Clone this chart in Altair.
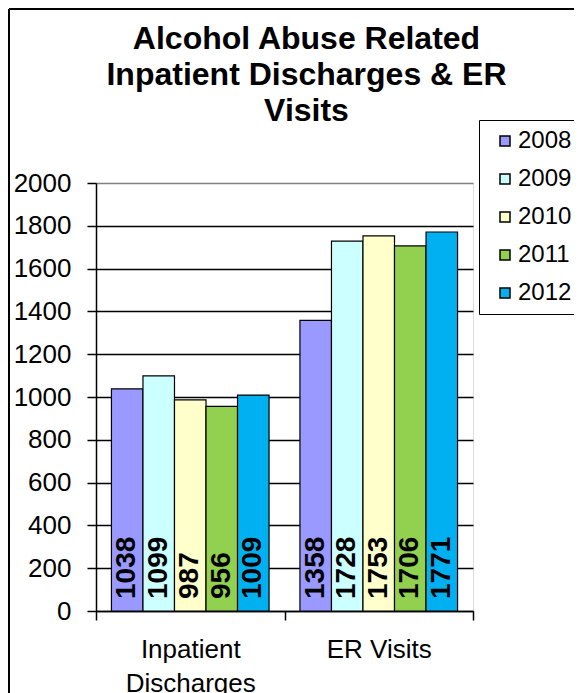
import altair as alt
import pandas as pd

categories = ["Inpatient Discharges", "ER Visits"]
years = ["2008", "2009", "2010", "2011", "2012"]
inpatient = [1038, 1099, 987, 956, 1009]
er_visits = [1358, 1728, 1753, 1706, 1771]
colors = ["#9999FF", "#CCFFFF", "#FFFFCC", "#92D050", "#00B0F0"]
y_ticks = [0, 200, 400, 600, 800, 1000, 1200, 1400, 1600, 1800, 2000]
title_lines = ["Alcohol Abuse Related", "Inpatient Discharges & ER", "Visits"]

rows = []
for cat, vals in zip(categories, [inpatient, er_visits]):
    for yr, v in zip(years, vals):
        rows.append({"cat": cat, "year": yr, "value": v})
df = pd.DataFrame(rows)

FONT = "Liberation Sans"

x_enc = alt.X(
    "cat:N",
    sort=categories,
    scale=alt.Scale(paddingInner=0, paddingOuter=0),
    axis=alt.Axis(
        title=None,
        labelAngle=0,
        tickBand="extent",
        tickSize=9,
        tickColor="black",
        tickWidth=1.5,
        domainColor="black",
        domainWidth=1.5,
        labelFontSize=26,
        labelFont=FONT,
        labelColor="black",
        labelPadding=16,
        labelLineHeight=34,
        labelExpr="datum.label == 'Inpatient Discharges' ? ['Inpatient', 'Discharges'] : datum.label",
        grid=False,
    ),
)
xoff_enc = alt.XOffset(
    "year:N",
    sort=years,
    scale=alt.Scale(paddingInner=0, paddingOuter=0.49),
)
y_enc = alt.Y(
    "value:Q",
    scale=alt.Scale(domain=[0, 2000], nice=False),
    axis=alt.Axis(
        title=None,
        values=y_ticks,
        format="d",
        tickSize=9,
        tickColor="black",
        tickWidth=1.5,
        domainColor="black",
        domainWidth=1.5,
        labelFontSize=26,
        labelFont=FONT,
        labelColor="black",
        labelPadding=16,
        grid=True,
        gridColor=alt.condition("datum.value >= 2000", alt.value("#808080"), alt.value("black")),
        gridWidth=1.3,
    ),
)
color_enc = alt.Color(
    "year:N",
    sort=years,
    scale=alt.Scale(domain=years, range=colors),
    legend=alt.Legend(
        title=None,
        orient="none",
        legendX=383,
        legendY=-63,
        strokeColor="black",
        fillColor="white",
        padding=9,
        symbolType="square",
        symbolSize=100,
        symbolStrokeColor="black",
        symbolStrokeWidth=1.5,
        symbolOffset=5,
        labelOffset=1,
        labelFontSize=24,
        labelFont=FONT,
        labelColor="black",
        rowPadding=14,
    ),
)

bars = alt.Chart(df).mark_bar(stroke="black", strokeWidth=1.2).encode(
    x=x_enc, xOffset=xoff_enc, y=y_enc, color=color_enc
)

labels = alt.Chart(df).mark_text(
    angle=270,
    align="left",
    baseline="middle",
    dx=12,
    fontSize=28,
    fontWeight="bold",
    font=FONT,
    color="black",
).encode(
    x=alt.X("cat:N", sort=categories),
    xOffset=alt.XOffset("year:N", sort=years),
    y=alt.datum(0),
    text="value:Q",
)

frame_df = pd.DataFrame([{"k": 0}])
left_edge = alt.Chart(frame_df).mark_rule(color="black", strokeWidth=2).encode(
    x=alt.value(-87), y=alt.value(-174), y2=alt.value(600)
)
top_edge = alt.Chart(frame_df).mark_rule(color="black", strokeWidth=2).encode(
    x=alt.value(-87), x2=alt.value(500), y=alt.value(-174)
)

chart = alt.layer(bars, labels, left_edge, top_edge).properties(
    width=377,
    height=428,
    autosize=alt.AutoSizeParams(type="none"),
    padding={"left": 88, "top": 175, "right": 101, "bottom": 82},
    title=alt.TitleParams(
        text=title_lines,
        fontSize=32,
        font=FONT,
        fontWeight="bold",
        color="black",
        lineHeight=36,
        anchor="middle",
        dx=22,
        offset=-120,
    ),
).configure_view(
    stroke="#808080", strokeWidth=2
).configure_legend(
    strokeWidth=1.5
).configure(background="white")

chart.save("out.html", embed_options={"renderer": "svg", "actions": False})
